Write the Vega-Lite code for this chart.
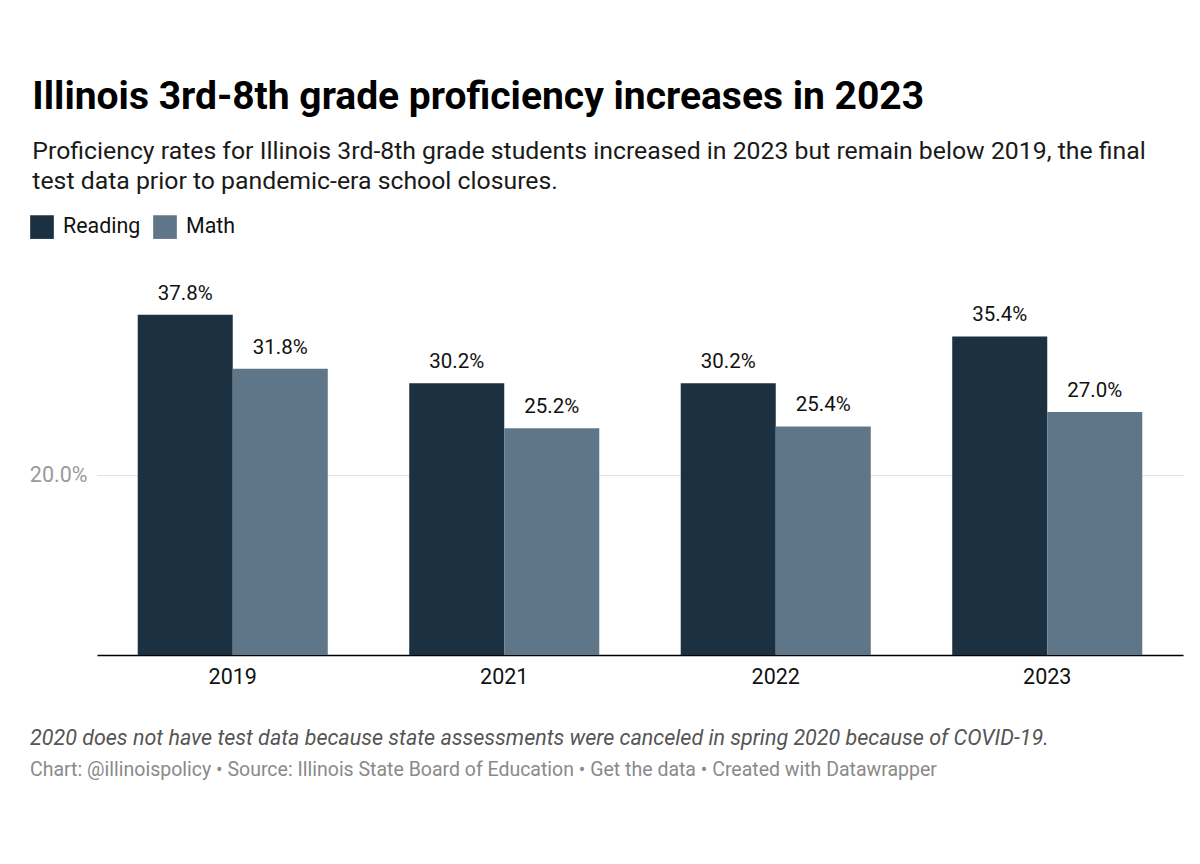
{
  "$schema": "https://vega.github.io/schema/vega-lite/v6.json",
  "padding": {"left": 29, "top": 78, "right": 17, "bottom": 20},
  "background": "white",
  "title": {
    "text": "Illinois 3rd-8th grade proficiency increases in 2023",
    "subtitle": ["Proficiency rates for Illinois 3rd-8th grade students increased in 2023 but remain below 2019, the final", "test data prior to pandemic-era school closures."],
    "anchor": "start",
    "frame": "bounds",
    "dx": 3,
    "font": "Roboto",
    "fontSize": 39,
    "fontWeight": "bold",
    "color": "#000000",
    "subtitleFont": "Roboto",
    "subtitleFontSize": 24.8,
    "subtitleColor": "#1a1a1a",
    "subtitleLineHeight": 30,
    "subtitlePadding": 22,
    "offset": 21
  },
  "vconcat": [
    {
      "width": 1086,
      "height": 360,
      "data": {
        "values": [
          {"year": "2019", "subject": "Reading", "value": 0.378},
          {"year": "2019", "subject": "Math", "value": 0.318},
          {"year": "2021", "subject": "Reading", "value": 0.302},
          {"year": "2021", "subject": "Math", "value": 0.252},
          {"year": "2022", "subject": "Reading", "value": 0.302},
          {"year": "2022", "subject": "Math", "value": 0.254},
          {"year": "2023", "subject": "Reading", "value": 0.354},
          {"year": "2023", "subject": "Math", "value": 0.270}
        ]
      },
      "title": {
        "text": "2020 does not have test data because state assessments were canceled in spring 2020 because of COVID-19.",
        "subtitle": "Chart: @illinoispolicy • Source: Illinois State Board of Education • Get the data • Created with Datawrapper",
        "orient": "bottom",
        "anchor": "start",
        "frame": "group",
        "dx": -67,
        "font": "Roboto",
        "fontSize": 21.5,
        "fontStyle": "italic",
        "fontWeight": "normal",
        "color": "#555555",
        "subtitleFont": "Roboto",
        "subtitleFontSize": 19.5,
        "subtitleColor": "#8a8a8a",
        "subtitlePadding": 12,
        "offset": 40
      },
      "encoding": {
        "x": {
          "field": "year",
          "type": "nominal",
          "title": null,
          "scale": {"paddingInner": 0.3, "paddingOuter": 0.15},
          "axis": {
            "labelAngle": 0,
            "labelFont": "Roboto",
            "labelFontSize": 21.5,
            "labelColor": "#111111",
            "labelPadding": 11,
            "ticks": false,
            "domainColor": "#000000",
            "domainWidth": 1.5,
            "grid": false
          }
        },
        "xOffset": {"field": "subject", "type": "nominal", "sort": ["Reading", "Math"], "scale": {"paddingInner": 0, "paddingOuter": 0}},
        "y": {
          "field": "value",
          "type": "quantitative",
          "title": null,
          "scale": {"domain": [0, 0.4], "nice": false},
          "axis": {
            "values": [0.2],
            "format": ".1%",
            "labelFont": "Roboto",
            "labelFontSize": 21.5,
            "labelColor": "#9a9a9a",
            "labelPadding": 10,
            "ticks": false,
            "domain": false,
            "gridColor": "#e2e2e2",
            "gridWidth": 1
          }
        }
      },
      "layer": [
        {
          "mark": {"type": "bar"},
          "encoding": {
            "color": {
              "field": "subject",
              "type": "nominal",
              "sort": ["Reading", "Math"],
              "scale": {"domain": ["Reading", "Math"], "range": ["#1b3142", "#5f7689"]},
              "legend": {
                "title": null,
                "orient": "none",
                "legendX": -67,
                "legendY": -80,
                "direction": "horizontal",
                "symbolType": "square",
                "symbolSize": 560,
                "symbolStrokeWidth": 0,
                "labelFont": "Roboto",
                "labelFontSize": 21.4,
                "labelColor": "#111111",
                "labelOffset": 9,
                "columnPadding": 12
              }
            }
          }
        },
        {
          "mark": {"type": "text", "baseline": "bottom", "dy": -11, "font": "Roboto", "fontSize": 20.5, "color": "#111111"},
          "encoding": {
            "text": {"field": "value", "type": "quantitative", "format": ".1%"}
          }
        }
      ]
    }
  ],
  "config": {
    "view": {"stroke": null}
  }
}
